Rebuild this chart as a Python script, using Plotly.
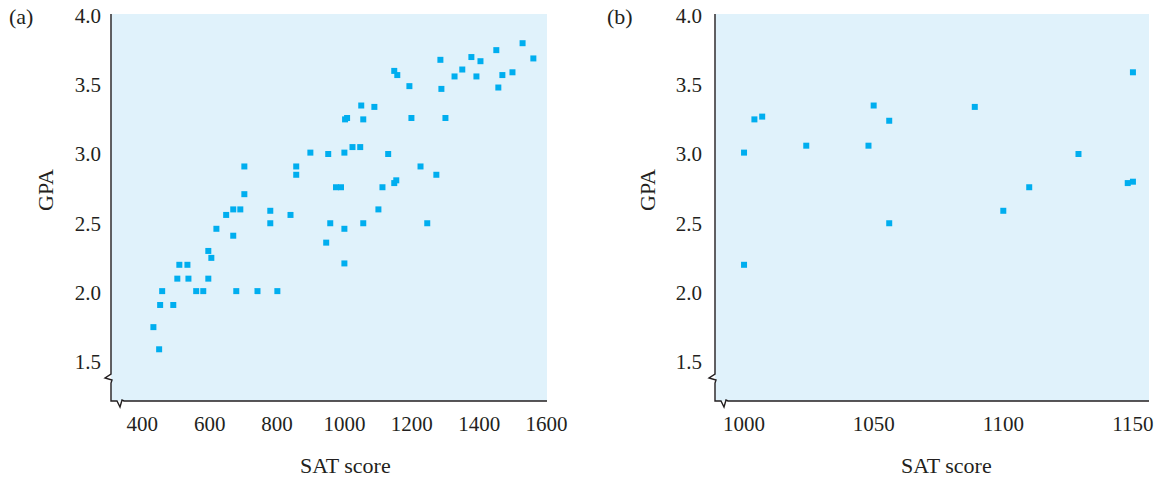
import plotly.graph_objects as go

# Panel (a): full sample of students
sat_all = [1529, 1561, 1451, 1377, 1404, 1285, 1350, 1327, 1392, 1469, 1499, 1457,
           1148, 1157, 1193, 1288, 1050, 1089, 1008, 1002, 1056, 1199, 1300, 1024,
           1047, 1000, 899, 952, 1130, 703, 857, 1226, 857, 1273, 1148, 1154,
           975, 990, 1113, 703, 649, 670, 691, 780, 840, 780, 958, 1000,
           620, 670, 946, 596, 605, 1000, 510, 534, 504, 537, 596, 459,
           560, 581, 679, 742, 801, 453, 492, 433, 450, 1101, 1056, 1246]
gpa_all = [3.80, 3.69, 3.75, 3.70, 3.67, 3.68, 3.61, 3.56, 3.56, 3.57, 3.59, 3.48,
           3.60, 3.57, 3.49, 3.47, 3.35, 3.34, 3.26, 3.25, 3.25, 3.26, 3.26, 3.05,
           3.05, 3.01, 3.01, 3.00, 3.00, 2.91, 2.91, 2.91, 2.85, 2.85, 2.79, 2.81,
           2.76, 2.76, 2.76, 2.71, 2.56, 2.60, 2.60, 2.59, 2.56, 2.50, 2.50, 2.46,
           2.46, 2.41, 2.36, 2.30, 2.25, 2.21, 2.20, 2.20, 2.10, 2.10, 2.10, 2.01,
           2.01, 2.01, 2.01, 2.01, 2.01, 1.91, 1.91, 1.75, 1.59, 2.60, 2.50, 2.50]

# Panel (b): students with SAT scores between 1000 and 1150
sat_zoom = [1150, 1004, 1007, 1050, 1089, 1056, 1000, 1024, 1048, 1129,
            1110, 1148, 1150, 1100, 1056, 1000]
gpa_zoom = [3.59, 3.25, 3.27, 3.35, 3.34, 3.24, 3.01, 3.06, 3.06, 3.00,
            2.76, 2.79, 2.80, 2.59, 2.50, 2.20]

x_ticks_all = [400, 600, 800, 1000, 1200, 1400, 1600]
x_ticks_zoom = [1000, 1050, 1100, 1150]
y_ticks = [1.5, 2.0, 2.5, 3.0, 3.5, 4.0]

W, H = 1164, 478
BG = "#e0f2fb"
DOT = "#00aeef"
INK = "#231f20"
FONT = "Liberation Serif"


def fx(px):
    return px / W


def fy(py):
    return 1 - py / H


# plot boxes in pixels: left, right, top, bottom
box_a = (111, 547, 14, 401)
box_b = (715, 1149, 14, 401)

marker = dict(symbol="square", size=6, color=DOT, line=dict(width=0))

fig = go.Figure()
fig.add_trace(go.Scatter(x=sat_all, y=gpa_all, mode="markers", marker=marker,
                         xaxis="x", yaxis="y", hoverinfo="skip"))
fig.add_trace(go.Scatter(x=sat_zoom, y=gpa_zoom, mode="markers", marker=marker,
                         xaxis="x2", yaxis="y2", hoverinfo="skip"))

tick_font = dict(family=FONT, size=21, color=INK)
common = dict(showgrid=False, zeroline=False, showline=False, ticks="",
              tickfont=tick_font, fixedrange=True, automargin=False)

y_range = [4 - (box_a[3] - 15.5) / 138.5, 4 + (15.5 - box_a[2]) / 138.5]

fig.update_layout(
    width=W, height=H,
    margin=dict(l=0, r=0, t=0, b=0, autoexpand=False),
    paper_bgcolor="white", plot_bgcolor=BG,
    showlegend=False,
    xaxis=dict(domain=[fx(box_a[0]), fx(box_a[1])], range=[307.1, 1601.5],
               tickvals=x_ticks_all, anchor="y", ticklabelstandoff=8, **common),
    yaxis=dict(domain=[fy(box_a[3]), fy(box_a[2])], range=y_range,
               tickvals=y_ticks, tickformat=".1f", anchor="x",
               ticklabelstandoff=9, **common),
    xaxis2=dict(domain=[fx(box_b[0]), fx(box_b[1])], range=[988.8, 1156.2],
                tickvals=x_ticks_zoom, anchor="y2", ticklabelstandoff=8, **common),
    yaxis2=dict(domain=[fy(box_b[3]), fy(box_b[2])], range=y_range,
                tickvals=y_ticks, tickformat=".1f", anchor="x2",
                ticklabelstandoff=12, **common),
)


def axis_path(box):
    L, R, T, B = box
    pts = [(L, T), (L, B - 27), (L - 6, B - 23), (L + 1, B - 21), (L, B - 18),
           (L, B), (L + 6, B), (L + 9, B + 6), (L + 11, B - 1), (L + 13, B),
           (R, B)]
    d = "M " + " L ".join(f"{fx(x):.5f},{fy(y):.5f}" for x, y in pts)
    return dict(type="path", xref="paper", yref="paper", path=d,
                line=dict(color=INK, width=1.4), layer="above")


fig.update_layout(shapes=[axis_path(box_a), axis_path(box_b)])

text_font = dict(family=FONT, size=22, color=INK)
notes = [
    ("(a)", 21, 17, 0),
    ("(b)", 620, 17, 0),
    ("SAT score", 345, 465, 0),
    ("SAT score", 946, 465, 0),
    ("GPA", 45, 190, -90),
    ("GPA", 647, 190, -90),
]
fig.update_layout(annotations=[
    dict(text=t, x=fx(x), y=fy(y), xref="paper", yref="paper",
         xanchor="center", yanchor="middle", showarrow=False,
         textangle=a, font=text_font)
    for t, x, y, a in notes
])

fig.write_html("out.html")
